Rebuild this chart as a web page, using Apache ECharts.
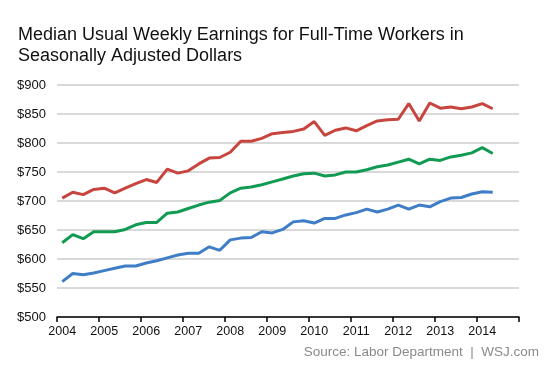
<!DOCTYPE html>
<html>
<head>
<meta charset="utf-8">
<script src="https://cdn.jsdelivr.net/npm/echarts@6/dist/echarts.min.js"></script>
<style>
  html, body { margin: 0; padding: 0; background: #fff; }
  #chart { width: 553px; height: 369px; }
</style>
</head>
<body>
<div id="chart"></div>
<script>
// Years shown on the axis; the axis is divided into quarters (Q1..Q4 of each year)
var years = ['2004','2005','2006','2007','2008','2009','2010','2011','2012','2013','2014'];
var quarters = ['Q1','Q2','Q3','Q4'];

// Series values, quarterly from 2004 Q1 to 2014 Q2 (dollars)
var topSeries = [705,715,711,720, 722,714,722,730, 737,732,755,748, 752,764,774,775,
                 784,803,803,808, 816,818,820,824, 837,813,822,826, 821,830,838,840,
                 841,868,838,869, 860,862,859,862, 868,859];
var midSeries = [628,642,635,647, 647,647,651,659, 663,663,679,681, 687,693,698,701,
                 714,722,724,728, 733,738,743,747, 748,743,745,750, 750,754,759,762,
                 767,772,764,772, 770,776,779,783, 792,782];
var lowSeries = [561,575,573,576, 580,584,588,588, 593,597,602,607, 610,610,621,615,
                 633,636,637,647, 645,651,664,666, 662,670,670,676, 680,686,681,686,
                 693,686,693,690, 699,705,706,712, 716,715];

// Y-axis tick values
var yTicks = [500,550,600,650,700,750,800,850,900];

var categories = [];
years.forEach(function (y) { quarters.forEach(function (q) { categories.push(y + ' ' + q); }); });

var chart = echarts.init(document.getElementById('chart'), null, { renderer: 'canvas' });
var font = 'Arial, "Liberation Sans", Helvetica, sans-serif';

function lineSeries(name, data, color) {
  return {
    name: name, type: 'line', data: data, symbol: 'none', smooth: false,
    lineStyle: { color: color, width: 3 }, itemStyle: { color: color },
    animation: false
  };
}

chart.setOption({
  animation: false,
  backgroundColor: '#ffffff',
  title: {
    text: 'Median Usual Weekly Earnings for Full-Time Workers in\nSeasonally Adjusted Dollars',
    left: 18, top: 25, padding: 0,
    textStyle: { fontFamily: font, fontSize: 18, fontWeight: 'normal', color: '#111', lineHeight: 21 }
  },
  grid: { left: 57, right: 34, top: 85, bottom: 52 },
  xAxis: {
    type: 'category',
    data: categories,
    boundaryGap: true,
    axisLine: { show: true, lineStyle: { color: '#000', width: 1.5 } },
    axisTick: { show: true, interval: 3, length: 5, lineStyle: { color: '#000', width: 1.5 } },
    axisLabel: {
      interval: 3, margin: 8, color: '#111', fontFamily: font, fontSize: 12.5,
      formatter: function (v) { return v.split(' ')[0]; }
    },
    splitLine: { show: false }
  },
  yAxis: {
    type: 'value',
    min: yTicks[0], max: yTicks[yTicks.length - 1], interval: 50,
    axisLine: { show: false },
    axisTick: { show: false },
    axisLabel: {
      margin: 11, color: '#111', fontFamily: font, fontSize: 13,
      formatter: function (v) { return '$' + v; }
    },
    splitLine: { show: true, lineStyle: { color: '#cccccc', width: 1.5 } }
  },
  series: [
    lineSeries('Top', topSeries, '#c8443f'),
    lineSeries('Middle', midSeries, '#119b52'),
    lineSeries('Low', lowSeries, '#3f7ec7')
  ],
  graphic: [{
    type: 'text',
    right: 14, top: 345,
    style: {
      text: 'Source: Labor Department  |  WSJ.com',
      fill: '#8a8a8a', font: '13.5px ' + font
    }
  }]
});
</script>
</body>
</html>
